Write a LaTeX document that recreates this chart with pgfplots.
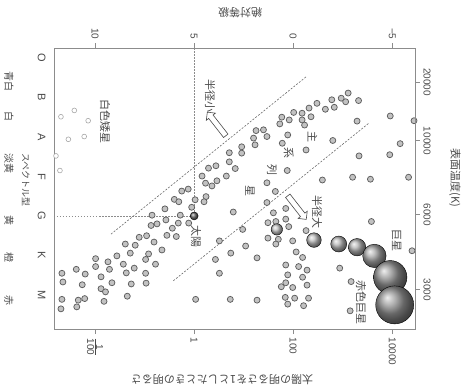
\documentclass[border=0pt]{standalone}
\usepackage{pgfplots}
\pgfplotsset{compat=1.18}
\usepackage{fontspec}
\setmainfont{Liberation Sans}
\newfontfamily\jp{Noto Sans CJK JP}
\usetikzlibrary{shapes.arrows}

\definecolor{frame}{HTML}{8C8C8C}
\definecolor{ink}{HTML}{4A4A4A}
\definecolor{bandgray}{HTML}{6A6A6A}
\definecolor{dotedge}{HTML}{5E5E5E}
\definecolor{dotfill}{HTML}{C2C2C2}
\definecolor{wdedge}{HTML}{A8A8A8}

% main sequence and giant branch stars: x = log10(L/Lsun), y = spectral class index (O=0 ... M=6)
\pgfplotstableread{
x y
0.71 2.40
0.71 2.63
0.83 2.80
0.29 2.79
0.44 2.73
0.16 2.99
0.65 2.99
0.46 3.11
0.23 3.17
0.36 3.24
-0.25 3.37
-0.12 3.32
0.24 3.51
0.02 3.59
0.20 3.64
-0.40 3.58
-0.31 3.64
-0.59 3.82
-0.05 3.78
0.79 3.90
-0.85 3.98
-0.28 3.98
-0.57 4.10
-0.87 4.24
-0.75 4.20
-0.32 4.18
-0.11 4.18
-0.44 4.31
-0.55 4.49
-0.36 4.52
-1.11 4.54
-0.96 4.50
-0.81 4.66
-1.39 4.71
-1.19 4.74
0.51 4.63
-1.29 4.94
-0.65 4.86
-0.92 4.96
-1.56 5.01
-0.98 5.10
-1.99 5.08
-1.74 5.16
-1.43 5.22
-1.99 5.28
-0.78 5.22
0.43 5.10
0.74 4.94
-2.38 5.35
-1.71 5.35
-1.21 5.32
-1.37 5.44
-0.98 5.45
-2.67 5.45
-2.20 5.47
-1.88 5.54
-2.65 5.67
-2.26 5.74
-1.66 5.69
-1.27 5.72
-0.97 5.70
0.51 5.45
-1.88 5.84
-1.79 5.92
-1.35 6.03
-2.67 6.11
-2.34 6.13
-2.21 6.09
-1.82 6.16
-2.37 6.30
-2.69 6.35
0.03 6.11
0.73 6.11
3.11 0.89
2.97 1.02
3.06 1.11
3.32 1.08
2.78 1.06
2.48 1.15
2.83 1.25
2.65 1.30
2.32 1.27
2.18 1.40
2.01 1.38
2.36 1.49
1.77 1.50
1.92 1.57
2.18 1.57
2.23 1.70
1.73 1.67
3.29 1.60
1.25 1.84
1.40 1.82
1.47 1.99
1.20 2.03
1.23 2.20
1.89 1.95
1.78 2.16
2.80 2.09
2.26 2.33
0.96 2.25
0.96 2.41
1.88 2.85
2.59 3.09
3.20 3.02
3.56 3.07
4.33 3.02
3.96 1.47
4.44 1.59
4.16 2.17
3.95 2.45
3.33 2.48
1.47 3.16
1.64 3.38
1.47 3.66
1.85 3.81
1.60 3.92
1.85 4.08
1.49 4.17
1.65 4.14
1.91 4.27
2.26 4.37
1.49 4.56
1.70 4.59
1.99 4.63
1.65 4.71
0.98 4.34
1.04 4.76
3.58 4.14
2.06 4.91
2.19 5.05
1.27 5.06
1.85 5.24
2.11 5.28
2.28 5.37
2.19 5.55
1.89 5.49
1.76 5.79
1.85 5.69
1.99 5.81
2.28 5.75
1.84 6.06
2.03 6.08
1.89 6.23
2.21 6.27
2.31 6.08
1.27 6.13
2.94 5.32
3.17 5.66
3.15 6.40
4.40 4.88
}\stars

% white dwarfs
\pgfplotstableread{
x y
-2.69 1.49
-2.42 1.33
-2.14 1.59
-2.54 2.06
-2.22 1.99
-2.79 2.48
-2.71 2.85
}\dwarfs

\pgfplotsset{
  hrframe/.style={
    at={(0,0)}, anchor=south west, scale only axis,
    width=361pt, height=281pt,
    xmin=-2.83, xmax=4.46, ymin=-0.25, ymax=6.86, y dir=reverse,
    axis line style={frame, line width=0.9pt},
    tick align=outside, major tick length=5pt,
    tick style={frame, line width=0.9pt},
    ticklabel style={text=ink, font=\fontsize{10}{12}\selectfont},
  },
}

\begin{document}
\begin{tikzpicture}[jplabel/.style={text=ink, font=\jp\fontsize{11}{13}\selectfont, inner sep=0pt}]
\begin{axis}[hrframe,
  clip=false,
  xtick={-2,0,2,4},
  xticklabels={$\frac{\mbox{1}}{\mbox{100}}$,1,100,10000},
  xtick pos=bottom,
  xticklabel style={rotate=-90, anchor=west},
  ytick={0,...,6}, yticklabels={O,B,A,F,G,K,M},
  ytick pos=left, y tick style={draw=none},
  yticklabel style={rotate=-90, anchor=north, font=\fontsize{11}{13}\selectfont},
]
% reference lines through the Sun
\addplot[frame, line width=0.5pt, dash pattern=on 1.5pt off 1.5pt] coordinates {(0,-0.25) (0,4)};
\addplot[frame, line width=0.5pt, dash pattern=on 1.5pt off 1.5pt] coordinates {(-2.83,4) (0,4)};
% band of the main sequence
\addplot[bandgray, line width=0.6pt, dash pattern=on 2pt off 1.5pt] coordinates {(-1.68,4.46) (2.28,0.46)};
\addplot[bandgray, line width=0.6pt, dash pattern=on 2pt off 1.5pt] coordinates {(-0.42,5.64) (3.54,1.64)};

\addplot[only marks, mark=*, mark size=2.4pt,
  mark options={fill=white, draw=wdedge, line width=0.6pt}] table {\dwarfs};
\addplot[only marks, mark=*, mark size=3pt,
  mark options={fill=dotfill, draw=dotedge, line width=0.75pt}] table {\stars};

% the Sun
\addplot[only marks, mark=ball, ball color=gray!80!black, mark size=4pt] coordinates {(0,4)};

% giants and red giants
\addplot[only marks, mark=ball, ball color=gray!45, mark size=5.7pt] coordinates {(1.67,4.34)};
\addplot[only marks, mark=ball, ball color=gray!50, mark size=7.3pt] coordinates {(2.42,4.61)};
\addplot[only marks, mark=ball, ball color=gray!55, mark size=8pt] coordinates {(2.92,4.71)};
\addplot[only marks, mark=ball, ball color=gray!60, mark size=8.7pt] coordinates {(3.29,4.79)};
\addplot[only marks, mark=ball, ball color=gray!70, mark size=11.7pt] coordinates {(3.64,5.01)};
\addplot[only marks, mark=ball, ball color=gray!85, mark size=16.7pt] coordinates {(3.96,5.55)};
\addplot[only marks, mark=ball, ball color=gray!85, mark size=19pt] coordinates {(4.05,6.25)};

% annotations
\node[jplabel, rotate=-90] at (axis cs:0.32,0.96) {半径小};
\node[jplabel, rotate=-90] at (axis cs:2.48,3.90) {半径大};
\node[jplabel, rotate=-90] at (axis cs:2.39,1.99) {主};
\node[jplabel, rotate=-90] at (axis cs:1.91,2.41) {系};
\node[jplabel, rotate=-90] at (axis cs:1.57,2.84) {列};
\node[jplabel, rotate=-90] at (axis cs:1.13,3.38) {星};
\node[jplabel, rotate=-90] at (axis cs:-1.80,1.62) {白色矮星};
\node[jplabel, rotate=-90] at (axis cs:0.04,4.53) {太陽};
\node[jplabel, rotate=-90] at (axis cs:4.09,4.61) {巨星};
\node[jplabel, rotate=-90] at (axis cs:3.37,6.18) {赤色巨星};

\node[single arrow, draw=ink, fill=white, line width=0.6pt, inner sep=2.5pt,
  minimum height=30pt, single arrow head extend=3pt, rotate=128] at (axis cs:0.47,1.70) {};
\node[single arrow, draw=ink, fill=white, line width=0.6pt, inner sep=2.5pt,
  minimum height=30pt, single arrow head extend=3pt, rotate=-52] at (axis cs:2.06,3.76) {};
\end{axis}

% absolute magnitude (top) and surface temperature (right)
\begin{axis}[hrframe,
  axis x line*=top, axis y line*=right,
  xtick={-2,0,2,4}, xticklabels={10,5,0,−5},
  xticklabel style={rotate=-90, anchor=east},
  ytick={0.61,2.1,3.97,5.87}, yticklabels={20000,10000,6000,3000},
  yticklabel style={rotate=-90, anchor=south},
]
\addplot[draw=none] coordinates {(0,0)};
\end{axis}

% axis titles
\node[jplabel, rotate=-90] at (401pt,151pt) {表面温度(K)};
\node[jplabel, rotate=180] at (186pt,316pt) {絶対等級};
\node[jplabel, rotate=180] at (168pt,-51pt) {太陽の明るさを1としたときの明るさ};

% colour of each spectral class
\begin{scope}[every node/.style={jplabel, rotate=-90, font=\jp\fontsize{10}{12}\selectfont}]
\node at (-45pt,247pt) {青白};
\node at (-45pt,212pt) {白};
\node at (-45pt,165pt) {淡黄};
\node at (-45pt,109pt) {黄};
\node at (-45pt,72pt) {橙};
\node at (-45pt,29pt) {赤};
\node[font=\jp\fontsize{9}{11}\selectfont] at (-28pt,149pt) {スペクトル型};
\end{scope}

\pgfresetboundingbox
\path (-54pt,-60pt) rectangle (415pt,329pt);
\end{tikzpicture}
\end{document}
